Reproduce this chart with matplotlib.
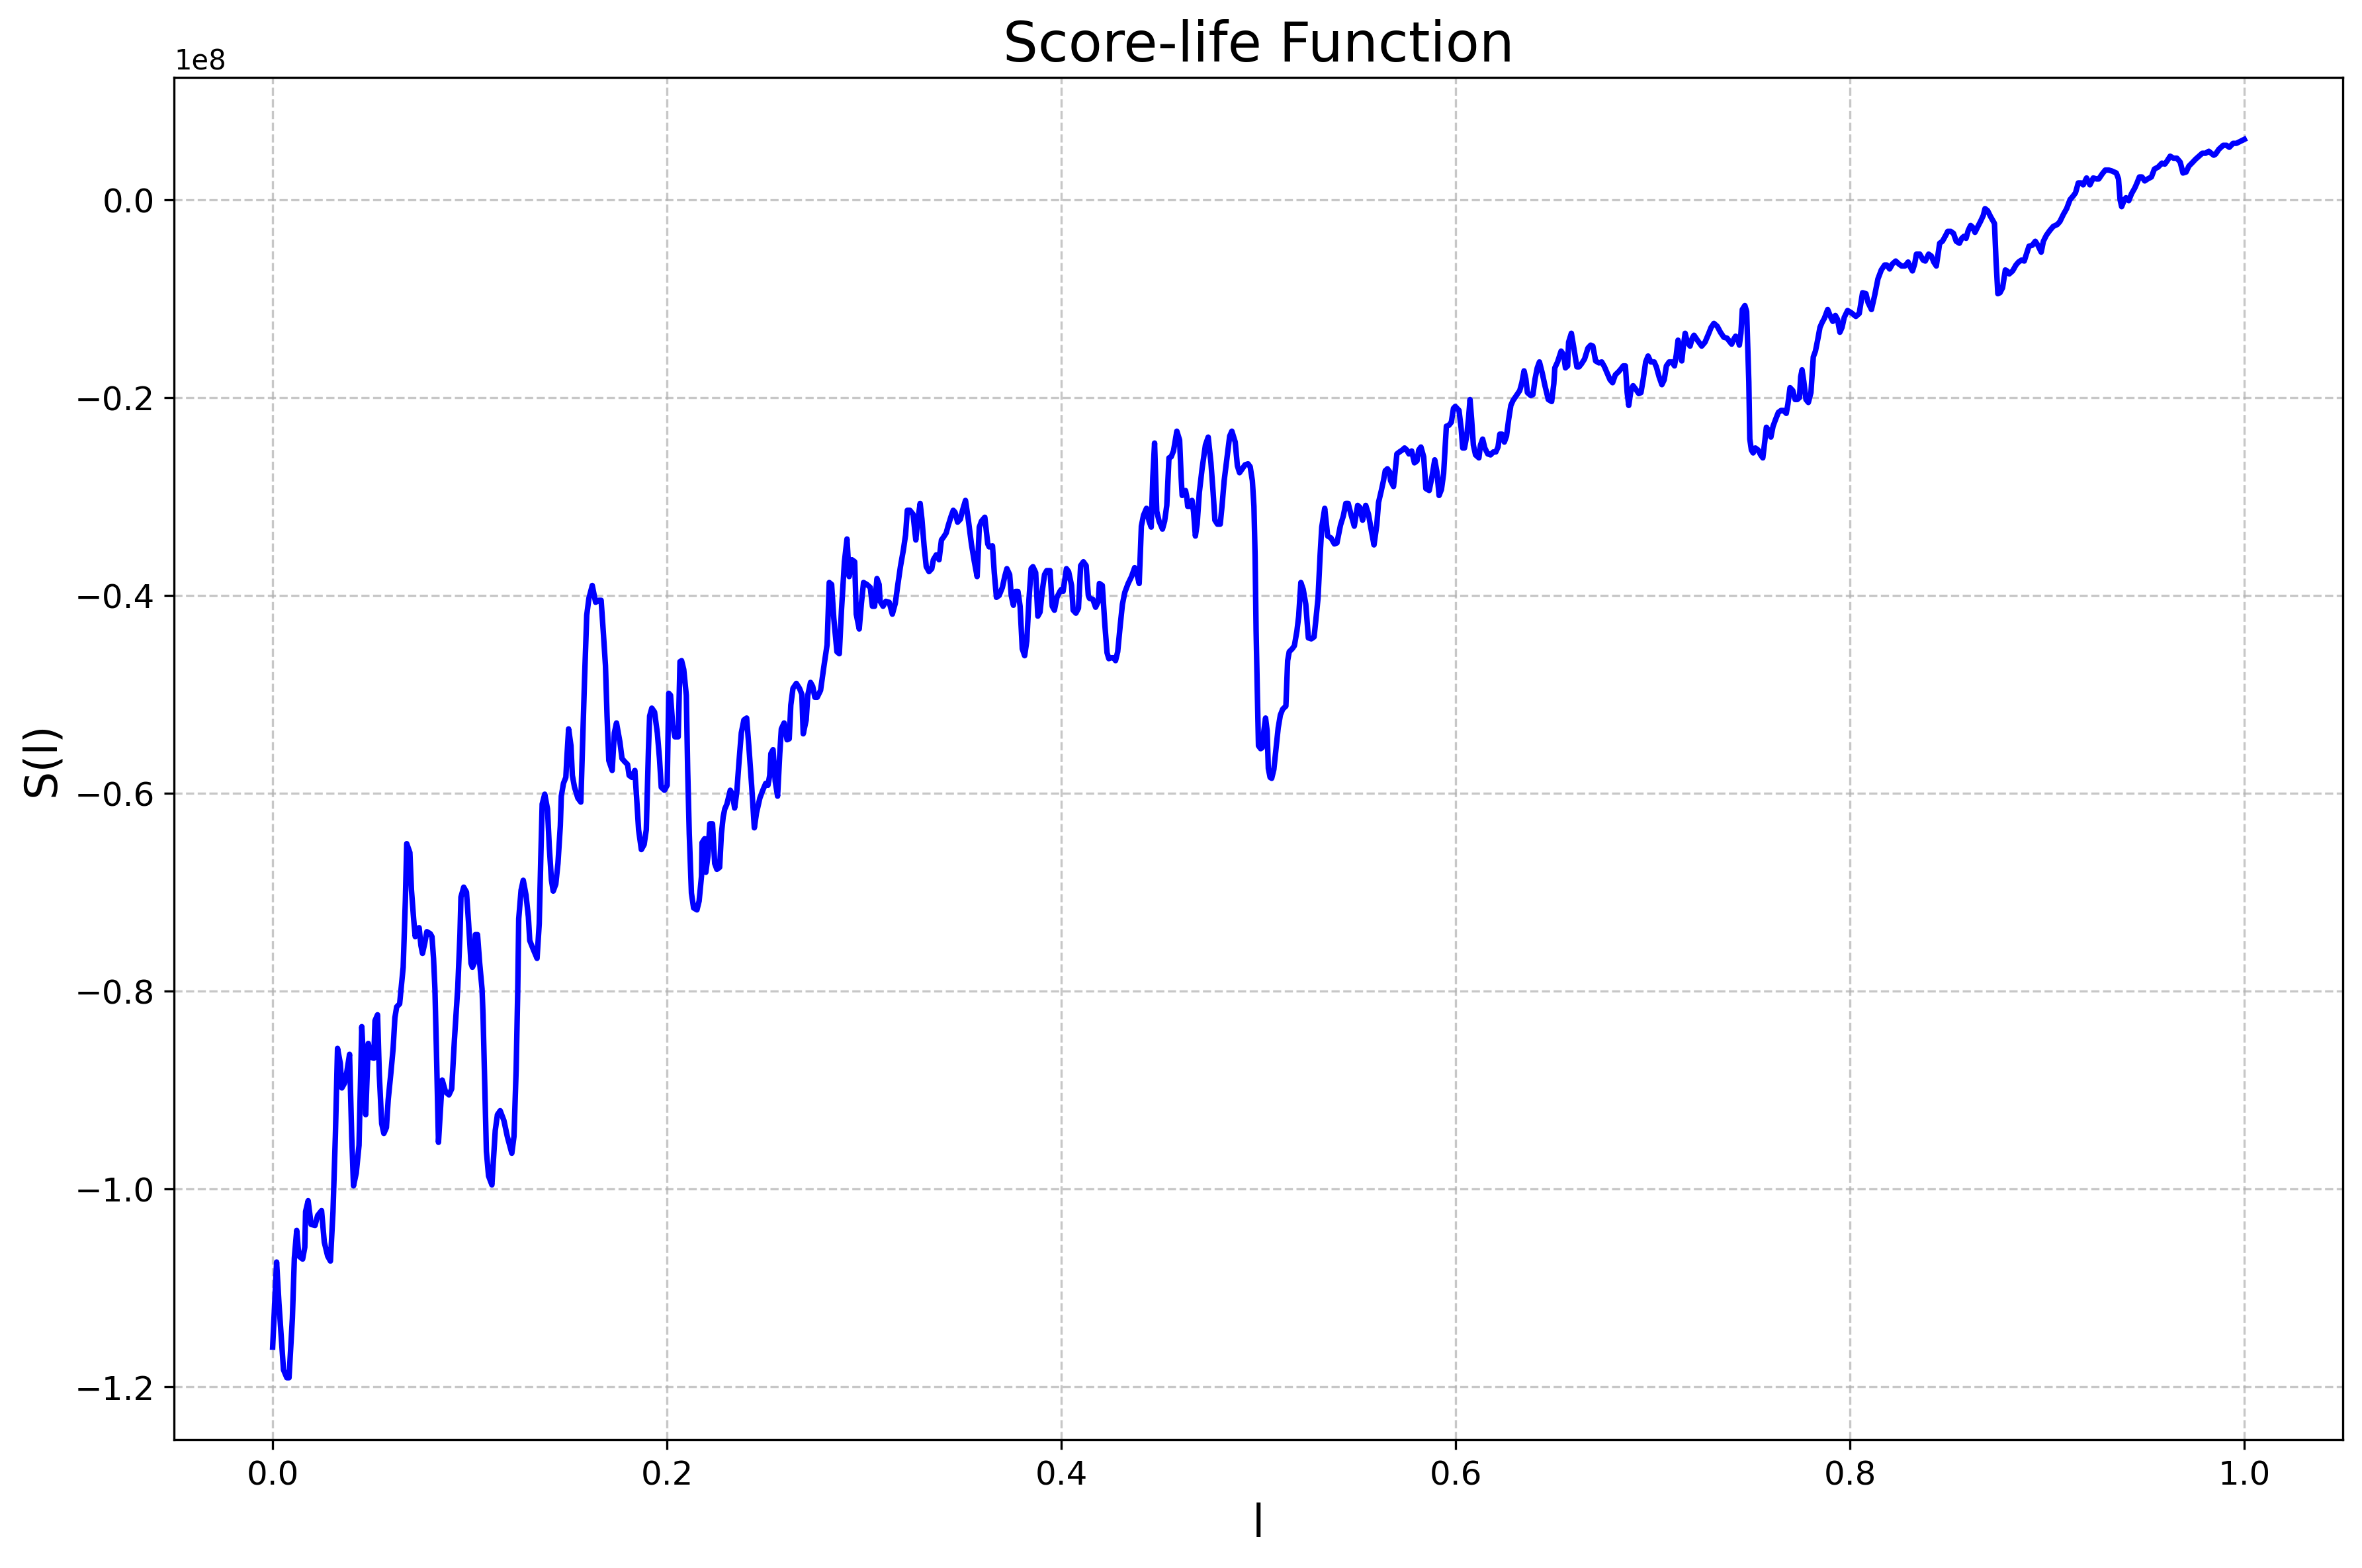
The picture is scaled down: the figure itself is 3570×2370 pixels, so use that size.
import matplotlib
matplotlib.use("Agg")
import matplotlib.pyplot as plt
import numpy as np

# l values (x) and S(l) values in units of 1e8
l_vals = [
0.0,0.002,0.0032,0.0055,0.0072,0.0083,0.010,0.011,0.0122,0.0133,0.0152,0.0163,0.0167,0.018,0.0195,0.0215,0.0228,0.0248,0.0262,0.0279,
0.0293,0.0306,0.0318,0.0329,0.0343,0.0351,0.0365,0.0376,0.039,0.0401,0.041,0.0424,0.0438,0.0452,0.0463,0.0472,0.0485,0.0499,0.0513,0.0519,
0.0532,0.0541,0.0553,0.0564,0.0577,0.0586,0.0600,0.0611,0.062,0.0629,0.0644,0.0662,0.0673,0.068,0.0696,0.0704,0.0715,0.0723,0.0732,0.0743,
0.0752,0.076,0.0771,0.0782,0.0799,0.0808,0.0816,0.0823,0.083,0.0841,0.0860,0.0877,0.0894,0.0908,0.0922,0.0939,0.095,0.0955,0.0969,0.0983,
0.0994,0.1006,0.1013,0.1022,0.1028,0.1039,0.105,0.1062,0.1067,0.1084,0.1095,0.1112,0.1129,0.114,0.1154,0.1173,0.119,0.1213,0.1224,0.1235,
0.1243,0.1248,0.126,0.1271,0.1285,0.1297,0.1304,0.1322,0.1341,0.1352,0.136,0.1367,0.138,0.1394,0.1403,0.1414,0.1423,0.1436,0.1447,0.1459,
0.1464,0.1475,0.1487,0.1492,0.1501,0.1513,0.152,0.1531,0.1548,0.1563,0.1571,0.1582,0.1593,0.1604,0.1621,0.1638,0.1655,0.1666,0.1677,0.1688,
0.1696,0.1705,0.1722,0.1733,0.1744,0.1761,0.1772,0.1785,0.18,0.1808,0.1822,0.1837,0.1848,0.1856,0.187,0.1884,0.1895,0.1906,0.1912,0.1923,
0.1937,0.1951,0.1962,0.1971,0.1987,0.2001,0.2009,0.2018,0.2029,0.204,0.2057,0.2066,0.2074,0.2085,0.2098,0.2105,0.2113,0.2124,0.2135,0.2152,
0.2163,0.2175,0.2178,0.2191,0.2197,0.2208,0.2217,0.2231,0.2242,0.2253,0.2267,0.2276,0.2285,0.2293,0.2304,0.2321,0.2332,0.2343,0.2354,0.2365,
0.2377,0.239,0.2404,0.2415,0.243,0.2443,0.2454,0.2471,0.2486,0.2501,0.2512,0.2521,0.2527,0.2538,0.2549,0.2561,0.2572,0.258,0.2594,0.2609,
0.262,0.2628,0.2639,0.2656,0.2672,0.2684,0.2691,0.2706,0.2714,0.2728,0.2739,0.275,0.2762,0.2779,0.2795,0.2812,0.2823,0.2835,0.2846,0.2862,
0.2874,0.2885,0.29,0.2913,0.2924,0.2938,0.2952,0.296,0.2975,0.2986,0.2997,0.3014,0.3031,0.3042,0.3053,0.3065,0.3076,0.3081,0.3096,0.311,
0.3127,0.3143,0.3158,0.3171,0.3184,0.3199,0.321,0.3219,0.3232,0.3248,0.3262,0.3271,0.3284,0.3293,0.3304,0.3315,0.3329,0.3343,0.3351,0.3366,
0.338,0.3392,0.3403,0.3416,0.3427,0.3441,0.3452,0.3461,0.3474,0.3488,0.3499,0.3514,0.3528,0.3544,0.3559,0.3573,0.3584,0.3595,0.3612,0.3627,
0.3634,0.3651,0.366,0.3671,0.3685,0.3701,0.3713,0.3724,0.3738,0.3746,0.3757,0.3768,0.378,0.3791,0.3802,0.3814,0.3825,0.3836,0.3847,0.3856,
0.387,0.3881,0.3892,0.3903,0.3915,0.3926,0.3943,0.3954,0.3965,0.3978,0.3993,0.4,0.4009,0.4026,0.4037,0.4052,0.406,0.4074,0.4087,0.4098,
0.4112,0.4126,0.4137,0.4143,0.416,0.4174,0.4188,0.4193,0.4208,0.4221,0.4232,0.4241,0.4255,0.4266,0.4275,0.4286,0.4299,0.431,0.4322,0.4339,
0.4356,0.4372,0.4384,0.4395,0.4406,0.4417,0.4432,0.4445,0.4456,0.4464,0.4473,0.4484,0.4496,0.4513,0.4524,0.4535,0.4546,0.4557,0.4569,0.4586,
0.46,0.4608,0.4613,0.463,0.4636,0.4641,0.4656,0.4663,0.4671,0.468,0.4689,0.47,0.4714,0.4731,0.4745,0.4759,0.477,0.4779,0.4792,0.4806,
0.4815,0.4826,0.4843,0.4854,0.4865,0.4882,0.4893,0.4904,0.4918,0.4932,0.4947,0.4958,0.4969,0.4977,0.4983,0.4988,0.4994,0.5,0.5011,0.5019,
0.5028,0.5036,0.5044,0.505,0.5059,0.5067,0.5078,0.5089,0.51,0.5111,0.5123,0.5139,0.5148,0.5156,0.5171,0.5182,0.5195,0.5204,0.5215,0.5227,
0.524,0.5253,0.5268,0.5282,0.529,0.5302,0.5313,0.5321,0.5336,0.5351,0.5368,0.5385,0.5398,0.5416,0.543,0.5443,0.5455,0.5469,0.5486,0.5503,
0.5514,0.5528,0.5544,0.5558,0.5573,0.5586,0.56,0.5609,0.5622,0.5634,0.5643,0.5654,0.5665,0.567,0.5685,0.5693,0.5702,0.5715,0.573,0.5741,
0.5752,0.5763,0.5777,0.5791,0.5804,0.5813,0.5824,0.5838,0.5849,0.5866,0.588,0.5894,0.5905,0.5916,0.5928,0.5939,0.5946,0.5953,0.5966,0.5978,
0.5989,0.5998,0.6017,0.6028,0.6036,0.6045,0.6056,0.6065,0.6073,0.6081,0.609,0.6101,0.6118,0.6126,0.6137,0.6148,0.6163,0.6177,0.6191,0.6204,
0.6215,0.6224,0.6235,0.6247,0.6258,0.6269,0.628,0.6291,0.6308,0.6325,0.6336,0.6347,0.6356,0.6364,0.6381,0.6392,0.6403,0.6414,0.6425,0.6439,
0.6453,0.647,0.6487,0.6498,0.6503,0.6517,0.6535,0.6548,0.6557,0.6568,0.6573,0.6587,0.6598,0.6615,0.6626,0.6638,0.6654,0.6671,0.6685,0.6696,
0.671,0.6727,0.6741,0.6755,0.6772,0.6783,0.6796,0.681,0.6826,0.6839,0.685,0.6861,0.687,0.6878,0.6889,0.69,0.6915,0.6929,0.694,0.6951,
0.6964,0.6976,0.699,0.7007,0.7018,0.7032,0.7046,0.7058,0.7069,0.7083,0.7097,0.711,0.7119,0.7128,0.7136,0.7147,0.7155,0.7164,0.7175,0.7189,
0.72,0.7209,0.7226,0.7248,0.7265,0.7282,0.7296,0.731,0.7327,0.7343,0.736,0.7377,0.7388,0.74,0.7411,0.742,0.7431,0.7439,0.7447,0.7454,
0.7467,0.7476,0.748,0.7487,0.7492,0.75,0.7509,0.752,0.7534,0.7547,0.7558,0.7567,0.7576,0.7587,0.7599,0.761,0.7623,0.7637,0.7651,0.7662,
0.7677,0.7685,0.7696,0.771,0.7722,0.7733,0.7744,0.775,0.7757,0.7766,0.7777,0.7789,0.7802,0.7814,0.7825,0.7836,0.7848,0.7859,0.787,0.7887,
0.7901,0.7913,0.7926,0.7937,0.7949,0.796,0.7971,0.7988,0.8005,0.803,0.8047,0.8064,0.8081,0.8092,0.8109,0.8125,0.8142,0.8159,0.8176,0.8187,
0.8201,0.8215,0.8232,0.8248,0.8262,0.8279,0.8295,0.8306,0.8317,0.8328,0.8337,0.8354,0.8371,0.8382,0.8399,0.8413,0.8425,0.8438,0.8447,0.8455,
0.8469,0.8483,0.8496,0.8511,0.8525,0.8539,0.8555,0.8567,0.8578,0.8589,0.86,0.8612,0.8623,0.8634,0.8649,0.8662,0.8676,0.8685,0.8698,0.8713,
0.8733,0.8741,0.875,0.8761,0.8774,0.8788,0.8797,0.8808,0.8825,0.8842,0.8855,0.887,0.8884,0.8895,0.8908,0.8925,0.894,0.8953,0.897,0.8981,
0.8996,0.9014,0.9031,0.9052,0.9065,0.9082,0.9099,0.9116,0.9133,0.9144,0.9158,0.9172,0.9183,0.92,0.9217,0.9234,0.9251,0.9262,0.9279,0.9295,
0.9312,0.9329,0.9351,0.9362,0.937,0.9378,0.9392,0.9400,0.9414,0.9428,0.9445,0.9456,0.9468,0.9481,0.9495,0.951,0.9529,0.9544,0.9563,0.9582,
0.9597,0.9608,0.9624,0.9641,0.9658,0.9675,0.9689,0.9705,0.9719,0.9734,0.9753,0.977,0.9787,0.9804,0.982,0.9832,0.9845,0.9854,0.9871,0.9893,
0.991,0.9924,0.9943,0.996,0.998,1.0,
]

s_vals_e8 = [
-1.160,-1.074,-1.116,-1.183,-1.191,-1.191,-1.131,-1.070,-1.042,-1.068,-1.071,-1.059,-1.023,-1.012,-1.036,-1.037,-1.027,-1.022,-1.054,-1.068,
-1.073,-1.023,-0.947,-0.858,-0.873,-0.898,-0.893,-0.882,-0.864,-0.947,-0.997,-0.984,-0.956,-0.836,-0.879,-0.925,-0.853,-0.867,-0.868,-0.830,
-0.824,-0.885,-0.934,-0.944,-0.938,-0.910,-0.882,-0.858,-0.827,-0.816,-0.813,-0.776,-0.709,-0.651,-0.660,-0.698,-0.727,-0.745,-0.737,-0.736,
-0.754,-0.762,-0.752,-0.740,-0.742,-0.745,-0.767,-0.798,-0.855,-0.953,-0.890,-0.902,-0.905,-0.899,-0.849,-0.796,-0.743,-0.705,-0.695,-0.700,
-0.732,-0.772,-0.776,-0.772,-0.743,-0.743,-0.772,-0.798,-0.824,-0.962,-0.987,-0.996,-0.941,-0.925,-0.921,-0.931,-0.947,-0.964,-0.947,-0.879,
-0.800,-0.727,-0.698,-0.688,-0.703,-0.725,-0.749,-0.758,-0.767,-0.732,-0.665,-0.611,-0.601,-0.616,-0.654,-0.688,-0.699,-0.692,-0.671,-0.633,
-0.603,-0.590,-0.584,-0.565,-0.535,-0.552,-0.582,-0.594,-0.605,-0.609,-0.556,-0.484,-0.420,-0.403,-0.390,-0.407,-0.405,-0.405,-0.437,-0.471,
-0.522,-0.567,-0.577,-0.539,-0.529,-0.548,-0.565,-0.568,-0.571,-0.582,-0.584,-0.577,-0.611,-0.637,-0.657,-0.652,-0.637,-0.556,-0.522,-0.514,
-0.518,-0.539,-0.565,-0.594,-0.597,-0.592,-0.499,-0.501,-0.531,-0.543,-0.543,-0.467,-0.466,-0.475,-0.501,-0.577,-0.641,-0.701,-0.716,-0.718,
-0.709,-0.684,-0.650,-0.646,-0.680,-0.663,-0.631,-0.631,-0.671,-0.677,-0.675,-0.641,-0.624,-0.616,-0.611,-0.597,-0.601,-0.615,-0.599,-0.569,
-0.539,-0.526,-0.524,-0.552,-0.594,-0.635,-0.620,-0.605,-0.597,-0.590,-0.592,-0.582,-0.560,-0.556,-0.588,-0.603,-0.560,-0.535,-0.529,-0.546,
-0.545,-0.511,-0.494,-0.489,-0.494,-0.500,-0.540,-0.526,-0.501,-0.488,-0.492,-0.503,-0.503,-0.496,-0.473,-0.450,-0.387,-0.389,-0.423,-0.457,
-0.459,-0.415,-0.366,-0.343,-0.381,-0.364,-0.366,-0.419,-0.434,-0.408,-0.387,-0.389,-0.392,-0.411,-0.411,-0.383,-0.389,-0.406,-0.411,-0.406,
-0.407,-0.419,-0.408,-0.389,-0.371,-0.354,-0.339,-0.314,-0.314,-0.318,-0.344,-0.326,-0.307,-0.323,-0.350,-0.371,-0.376,-0.373,-0.364,-0.359,
-0.364,-0.344,-0.341,-0.337,-0.329,-0.320,-0.314,-0.316,-0.326,-0.323,-0.314,-0.304,-0.323,-0.348,-0.366,-0.381,-0.331,-0.325,-0.321,-0.348,
-0.351,-0.350,-0.377,-0.402,-0.400,-0.392,-0.381,-0.373,-0.379,-0.400,-0.410,-0.396,-0.396,-0.411,-0.454,-0.461,-0.446,-0.404,-0.373,-0.371,
-0.377,-0.421,-0.417,-0.396,-0.379,-0.375,-0.375,-0.411,-0.415,-0.402,-0.396,-0.394,-0.396,-0.373,-0.376,-0.390,-0.415,-0.418,-0.413,-0.370,
-0.366,-0.370,-0.400,-0.403,-0.404,-0.412,-0.406,-0.388,-0.390,-0.430,-0.458,-0.464,-0.463,-0.463,-0.466,-0.457,-0.430,-0.409,-0.397,-0.388,
-0.381,-0.372,-0.379,-0.388,-0.330,-0.319,-0.312,-0.325,-0.331,-0.281,-0.246,-0.315,-0.325,-0.333,-0.325,-0.309,-0.261,-0.260,-0.254,-0.234,
-0.243,-0.281,-0.299,-0.294,-0.300,-0.310,-0.310,-0.304,-0.316,-0.340,-0.328,-0.296,-0.272,-0.248,-0.240,-0.266,-0.296,-0.324,-0.328,-0.328,
-0.310,-0.284,-0.257,-0.239,-0.234,-0.245,-0.269,-0.276,-0.272,-0.268,-0.267,-0.270,-0.284,-0.310,-0.361,-0.436,-0.496,-0.552,-0.555,-0.554,
-0.536,-0.524,-0.537,-0.575,-0.584,-0.585,-0.576,-0.555,-0.534,-0.521,-0.515,-0.512,-0.466,-0.457,-0.454,-0.451,-0.436,-0.421,-0.387,-0.394,
-0.409,-0.443,-0.444,-0.442,-0.427,-0.403,-0.358,-0.331,-0.312,-0.340,-0.342,-0.348,-0.347,-0.329,-0.320,-0.307,-0.307,-0.318,-0.330,-0.309,
-0.311,-0.324,-0.309,-0.318,-0.335,-0.349,-0.329,-0.306,-0.295,-0.284,-0.274,-0.272,-0.275,-0.284,-0.290,-0.275,-0.257,-0.255,-0.253,-0.251,
-0.253,-0.257,-0.254,-0.266,-0.264,-0.253,-0.250,-0.260,-0.292,-0.294,-0.280,-0.263,-0.275,-0.299,-0.293,-0.277,-0.253,-0.229,-0.228,-0.225,
-0.211,-0.209,-0.213,-0.231,-0.251,-0.251,-0.239,-0.222,-0.202,-0.222,-0.248,-0.258,-0.261,-0.248,-0.242,-0.251,-0.257,-0.258,-0.255,-0.255,
-0.250,-0.237,-0.237,-0.245,-0.239,-0.222,-0.208,-0.203,-0.198,-0.193,-0.185,-0.173,-0.181,-0.195,-0.198,-0.197,-0.181,-0.170,-0.164,-0.175,
-0.188,-0.202,-0.204,-0.186,-0.170,-0.164,-0.153,-0.157,-0.170,-0.168,-0.144,-0.135,-0.148,-0.169,-0.169,-0.166,-0.161,-0.150,-0.147,-0.148,
-0.163,-0.165,-0.164,-0.169,-0.177,-0.182,-0.185,-0.177,-0.174,-0.171,-0.168,-0.168,-0.195,-0.208,-0.193,-0.188,-0.192,-0.196,-0.195,-0.182,
-0.164,-0.158,-0.164,-0.164,-0.169,-0.179,-0.187,-0.182,-0.168,-0.164,-0.164,-0.168,-0.157,-0.142,-0.153,-0.163,-0.148,-0.135,-0.144,-0.148,
-0.140,-0.137,-0.142,-0.148,-0.144,-0.136,-0.129,-0.125,-0.128,-0.134,-0.139,-0.140,-0.143,-0.146,-0.141,-0.138,-0.140,-0.147,-0.135,-0.111,
-0.107,-0.113,-0.139,-0.184,-0.242,-0.253,-0.256,-0.251,-0.253,-0.258,-0.261,-0.246,-0.230,-0.233,-0.240,-0.229,-0.222,-0.215,-0.213,-0.213,
-0.216,-0.207,-0.190,-0.193,-0.202,-0.202,-0.200,-0.179,-0.172,-0.184,-0.202,-0.205,-0.195,-0.159,-0.153,-0.142,-0.129,-0.124,-0.120,-0.111,
-0.118,-0.123,-0.117,-0.121,-0.134,-0.129,-0.119,-0.112,-0.114,-0.118,-0.115,-0.094,-0.095,-0.104,-0.111,-0.097,-0.080,-0.071,-0.066,-0.066,
-0.070,-0.065,-0.062,-0.065,-0.067,-0.067,-0.063,-0.068,-0.072,-0.065,-0.055,-0.055,-0.061,-0.062,-0.055,-0.057,-0.063,-0.067,-0.055,-0.044,
-0.042,-0.037,-0.032,-0.032,-0.034,-0.042,-0.044,-0.039,-0.037,-0.039,-0.031,-0.026,-0.028,-0.033,-0.027,-0.022,-0.016,-0.009,-0.011,-0.017,
-0.024,-0.062,-0.095,-0.094,-0.089,-0.071,-0.072,-0.075,-0.072,-0.066,-0.063,-0.061,-0.062,-0.055,-0.047,-0.046,-0.042,-0.046,-0.053,-0.042,
-0.036,-0.031,-0.027,-0.025,-0.022,-0.015,-0.009,0.000,0.004,0.007,0.017,0.017,0.015,0.022,0.015,0.022,0.021,0.021,0.026,0.030,
0.030,0.029,0.027,0.021,0.000,-0.007,0.000,0.002,-0.001,0.006,0.012,0.017,0.023,0.023,0.019,0.021,0.023,0.031,0.033,0.037,
0.036,0.039,0.044,0.042,0.042,0.038,0.027,0.028,0.034,0.037,0.041,0.044,0.047,0.047,0.049,0.047,0.045,0.046,0.051,0.055,
0.055,0.053,0.057,0.057,0.059,0.061,
]

title_text = "Score-life Function"
x_label = "l"
y_label = "S(l)"

n = min(len(l_vals), len(s_vals_e8))
x = np.array(l_vals[:n])
y = np.array(s_vals_e8[:n]) * 1e8

fig = plt.figure(figsize=(11.9, 7.9033), dpi=300)
ax = fig.add_axes([0.0737, 0.0818, 0.9919 - 0.0737, 0.9502 - 0.0818])
ax.plot(x, y, color="blue", linewidth=2)
ax.set_title(title_text, fontsize=20)
ax.set_xlabel(x_label, fontsize=16)
ax.set_ylabel(y_label, fontsize=16)
ax.tick_params(axis="both", labelsize=12)
ax.yaxis.get_offset_text().set_fontsize(10)
ax.grid(True, linestyle="--", alpha=0.7)
fig.savefig("out.png", dpi=300)
print(n, len(l_vals), len(s_vals_e8))
